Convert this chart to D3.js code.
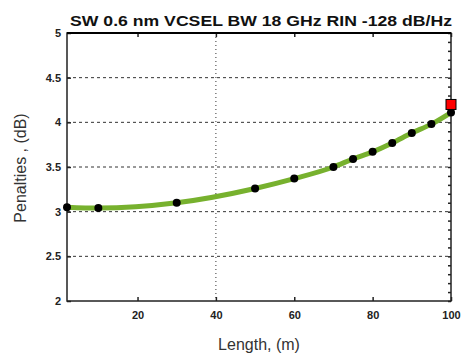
<!DOCTYPE html>
<html><head><meta charset="utf-8">
<script src="https://cdn.jsdelivr.net/npm/d3@7/dist/d3.min.js"></script>
<style>body{margin:0;background:#fff}svg{display:block}text{font-family:"Liberation Sans",Arial,sans-serif}</style>
</head><body><svg id="c" width="462" height="358"></svg>
<script>
const lengths = [2, 10, 30, 50, 60, 70, 75, 80, 85, 90, 95, 100];
const penalties = [3.05, 3.04, 3.10, 3.26, 3.37, 3.50, 3.59, 3.67, 3.77, 3.88, 3.98, 4.11];
const highlightX = [100];
const highlightY = [4.20];
const xTicks = [20, 40, 60, 80, 100];
const yTicks = [2, 2.5, 3, 3.5, 4, 4.5, 5];
const yTickLabels = ["2", "2.5", "3", "3.5", "4", "4.5", "5"];
const xGrid = [40];
const yGrid = [2.5, 3, 3.5, 4, 4.5];

const svg = d3.select("#c");
const L = 67, R = 451, T = 33, B = 301;
const x = d3.scaleLinear().domain([2, 100]).range([L, R]);
const y = d3.scaleLinear().domain([2, 5]).range([B, T]);

// grid
svg.append("g").selectAll("line").data(yGrid).join("line")
  .attr("x1", L).attr("x2", R).attr("y1", d => y(d)).attr("y2", d => y(d))
  .attr("stroke", "#333").attr("stroke-width", 1).attr("stroke-dasharray", "3,3");
svg.append("g").selectAll("line").data(xGrid).join("line")
  .attr("y1", T).attr("y2", B).attr("x1", d => x(d)).attr("x2", d => x(d))
  .attr("stroke", "#333").attr("stroke-width", 1).attr("stroke-dasharray", "1,3");

// axes
const ax = d3.axisBottom(x).tickValues(xTicks).tickSize(-4).tickPadding(10).tickFormat(d3.format("d"));
const gx = svg.append("g").attr("transform", `translate(0,${B})`).call(ax);
const ay = d3.axisLeft(y).tickValues(yTicks).tickSize(-4).tickPadding(6).tickFormat((d, i) => yTickLabels[i]);
const gy = svg.append("g").attr("transform", `translate(${L},0)`).call(ay);
const axt = d3.axisTop(x).tickValues(xTicks).tickSize(-4).tickFormat("");
svg.append("g").attr("transform", `translate(0,${T})`).call(axt);
const ayr = d3.axisRight(y).tickValues(d3.range(2, 5.0001, 0.1)).tickSize(-3).tickFormat("");
svg.append("g").attr("transform", `translate(${R},0)`).call(ayr);
svg.selectAll(".domain").remove();
svg.selectAll(".tick line").attr("stroke", "#222").attr("stroke-width", 1.5);
svg.selectAll(".tick text").attr("fill", "#222").attr("font-size", 11).attr("font-weight", "bold")
  .attr("font-family", "'Liberation Sans Narrow','Liberation Sans',Arial,sans-serif");

// box
svg.append("rect").attr("x", L).attr("y", T).attr("width", R - L).attr("height", B - T)
  .attr("fill", "none").attr("stroke", "#222").attr("stroke-width", 1.5);
svg.append("line").attr("x1", L).attr("x2", R).attr("y1", T).attr("y2", T).attr("stroke", "#000").attr("stroke-width", 2);

// curve
const pts = lengths.map((d, i) => [d, penalties[i]]);
const line = d3.line().x(d => x(d[0])).y(d => y(d[1])).curve(d3.curveMonotoneX);
svg.append("path").datum(pts).attr("d", line).attr("fill", "none")
  .attr("stroke", "#77b12e").attr("stroke-width", 5);

svg.append("g").selectAll("circle").data(pts).join("circle")
  .attr("cx", d => x(d[0])).attr("cy", d => y(d[1])).attr("r", 4).attr("fill", "#000");

svg.append("g").selectAll("rect").data(highlightX.map((d, i) => [d, highlightY[i]])).join("rect")
  .attr("x", d => x(d[0]) - 5).attr("y", d => y(d[1]) - 5).attr("width", 10).attr("height", 10)
  .attr("fill", "#ff0000").attr("stroke", "#000").attr("stroke-width", 1);

// labels
svg.append("text").attr("x", 261).attr("y", 26).attr("text-anchor", "middle")
  .attr("font-size", 15).attr("font-weight", "bold").attr("fill", "#111")
  .attr("textLength", 382).attr("lengthAdjust", "spacingAndGlyphs")
  .text("SW 0.6 nm VCSEL BW 18 GHz RIN  -128 dB/Hz");
svg.append("text").attr("x", 259).attr("y", 350).attr("text-anchor", "middle")
  .attr("font-size", 16).attr("fill", "#333").text("Length, (m)");
svg.append("text").attr("transform", "translate(26,168) rotate(-90)").attr("text-anchor", "middle")
  .attr("font-size", 16).attr("fill", "#333").text("Penalties , (dB)");
</script></body></html>
